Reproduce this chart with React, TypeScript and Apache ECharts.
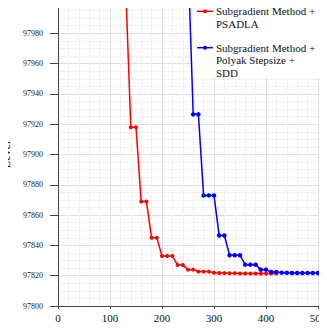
import React, { useEffect, useRef } from "react";
import * as echarts from "echarts";

const redIterations = [130, 140, 150, 160, 170, 180, 190, 200, 210, 220, 230, 240, 250, 260, 270, 280, 290, 300, 310, 320, 330, 340, 350, 360, 370, 380, 390, 400, 410, 420];
const redLevels = [98012, 97918, 97918, 97869, 97869, 97845, 97845, 97833, 97833, 97833, 97827, 97827, 97824, 97824, 97822.7, 97822.7, 97822.7, 97822, 97821.8, 97821.7, 97821.6, 97821.6, 97821.5, 97821.5, 97821.5, 97821.5, 97821.5, 97821.5, 97821.5, 97821.5];

const blueIterations = [250, 260, 270, 280, 290, 300, 310, 320, 330, 340, 350, 360, 370, 380, 390, 400, 410, 420, 430, 440, 450, 460, 470, 480, 490, 500];
const blueLevels = [98030, 97926.5, 97926.5, 97873, 97873, 97873, 97846.5, 97846.5, 97833.5, 97833.5, 97833.5, 97827.3, 97827.3, 97827.3, 97824, 97824, 97822.4, 97822.4, 97822, 97821.9, 97821.8, 97821.8, 97821.8, 97821.8, 97821.8, 97821.8];

const seriesNames = ["Subgradient Method +\nPSADLA", "Subgradient Method +\nPolyak Stepsize +\nSDD"];
const seriesColors = ["#ff0000", "#0000ff"];
const xTicks = { min: 0, max: 500, interval: 100 };
const yTicks = { min: 97800, max: 98000, interval: 20 };

const FONT = "Liberation Serif, Times New Roman, serif";

function legendEntry(name: string, color: string, y: number) {
  return [
    { type: "line", shape: { x1: 197, y1: y, x2: 213, y2: y }, style: { stroke: color, lineWidth: 1.5 }, z: 101 },
    { type: "circle", shape: { cx: 205, cy: y, r: 2 }, style: { fill: color }, z: 101 },
    {
      type: "text",
      x: 216,
      y: y - 6.5,
      style: { text: name, fill: "#111", fontFamily: FONT, fontSize: 11, lineHeight: 12.8, verticalAlign: "top" },
      z: 101,
    },
  ];
}

export default function App() {
  const ref = useRef<HTMLDivElement>(null);
  useEffect(() => {
    if (!ref.current) return;
    const chart = echarts.init(ref.current, undefined, { renderer: "svg" });
    const red = redIterations.map((x, i) => [x, redLevels[i]]);
    const blue = blueIterations.map((x, i) => [x, blueLevels[i]]);
    chart.setOption({
      animation: false,
      textStyle: { fontFamily: FONT },
      grid: { left: 58, top: 3, right: 9, bottom: 25, containLabel: false, outerBoundsMode: "none" },
      graphic: [
        { type: "rect", shape: { x: 193, y: 0, width: 129, height: 78 }, style: { fill: "#ffffff" }, z: 100 },
        ...legendEntry(seriesNames[0], seriesColors[0], 11.3),
        ...legendEntry(seriesNames[1], seriesColors[1], 47.7),
      ],
      xAxis: {
        type: "value",
        min: xTicks.min,
        max: xTicks.max,
        interval: xTicks.interval,
        name: "Iteration",
        nameLocation: "middle",
        nameGap: 15,
        nameMoveOverlap: false,
        nameTextStyle: { fontFamily: FONT, fontSize: 11, color: "#111" },
        axisLine: { show: true, onZero: false, lineStyle: { color: "#444", width: 1 } },
        axisTick: { show: true, length: 3, lineStyle: { color: "#444" } },
        axisLabel: { fontFamily: FONT, fontSize: 11, color: "#111", margin: 6.5, formatter: (v: number) => String(v) },
        splitLine: { show: true, lineStyle: { color: "#dedede", width: 1 } },
        minorTick: { show: false, splitNumber: 5 },
        minorSplitLine: { show: true, lineStyle: { color: "#f1f1f1", width: 1 } },
      },
      yAxis: {
        type: "value",
        min: yTicks.min,
        max: yTicks.max,
        interval: yTicks.interval,
        name: "Level",
        nameLocation: "middle",
        nameRotate: 90,
        nameGap: 46,
        nameMoveOverlap: false,
        nameTextStyle: { fontFamily: FONT, fontSize: 12, color: "#111" },
        axisLine: { show: true, onZero: false, lineStyle: { color: "#444", width: 1 } },
        axisTick: { show: true, length: 8, lineStyle: { color: "#444" } },
        axisLabel: { fontFamily: FONT, fontSize: 8, color: "#222", margin: 15, formatter: (v: number) => String(v) },
        splitLine: { show: true, lineStyle: { color: "#dedede", width: 1 } },
        minorTick: { show: false, splitNumber: 4 },
        minorSplitLine: { show: true, lineStyle: { color: "#f1f1f1", width: 1 } },
      },
      series: [
        {
          name: seriesNames[0],
          type: "line",
          data: red,
          color: seriesColors[0],
          symbol: "circle",
          symbolSize: 4,
          showAllSymbol: true,
          lineStyle: { width: 1.5, color: seriesColors[0] },
          itemStyle: { color: seriesColors[0] },
          clip: true,
          z: 2,
        },
        {
          name: seriesNames[1],
          type: "line",
          data: blue,
          color: seriesColors[1],
          symbol: "circle",
          symbolSize: 4.5,
          showAllSymbol: true,
          lineStyle: { width: 1.5, color: seriesColors[1] },
          itemStyle: { color: seriesColors[1] },
          clip: true,
          z: 3,
        },
      ],
    });
    return () => chart.dispose();
  }, []);
  return <div ref={ref} style={{ width: 327, height: 331, margin: -8 }} />;
}
